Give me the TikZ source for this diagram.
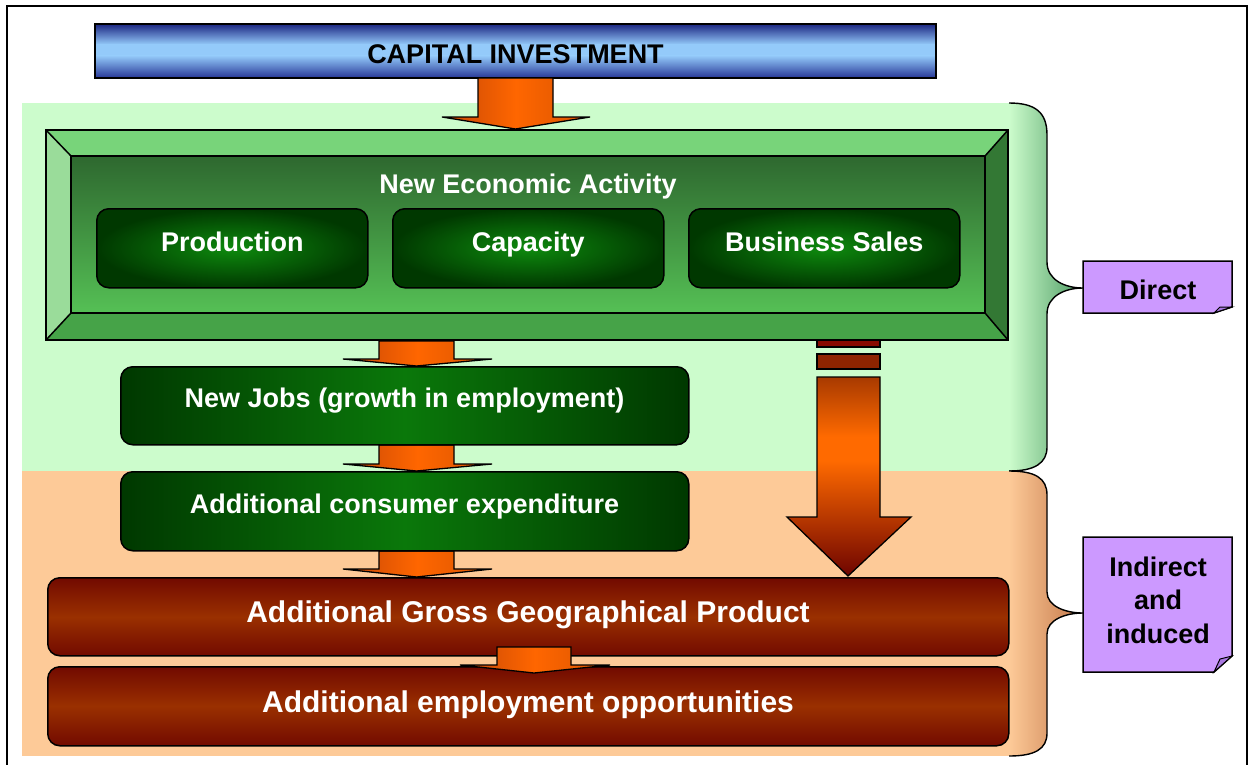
\documentclass[tikz,border=0pt]{standalone}
\usepackage{fontspec}
\setmainfont{Liberation Sans}
\definecolor{navy}{HTML}{1C2782}
\definecolor{navyb}{HTML}{263696}
\definecolor{skyb}{HTML}{94CAFA}
\definecolor{lgreen}{HTML}{CCFCCC}
\definecolor{bgreen}{HTML}{4C9A62}
\definecolor{peach}{HTML}{FDCA98}
\definecolor{bpeach}{HTML}{C37648}
\definecolor{bvtop}{HTML}{78D47A}
\definecolor{bvleft}{HTML}{9ADC9A}
\definecolor{bvright}{HTML}{337834}
\definecolor{bvbot}{HTML}{46A348}
\definecolor{bvinT}{HTML}{2E682F}
\definecolor{bvinB}{HTML}{55C055}
\definecolor{gdark}{HTML}{003800}
\definecolor{gmid}{HTML}{0A780A}
\definecolor{gglow}{HTML}{0E8A0E}
\definecolor{rdark}{HTML}{720A00}
\definecolor{rmid}{HTML}{9A3000}
\definecolor{oL}{HTML}{C44606}
\definecolor{oM}{HTML}{FF6600}
\definecolor{oR}{HTML}{D85400}
\definecolor{arrtop}{HTML}{A83A00}
\definecolor{arrmid}{HTML}{FF6A00}
\definecolor{arrbot}{HTML}{6E0400}
\definecolor{bar1}{HTML}{880A00}
\definecolor{bar2}{HTML}{8E2400}
\definecolor{lilac}{HTML}{CC99FF}
\definecolor{lilacd}{HTML}{A878E0}
\pgfdeclareverticalshading{bigarrow}{100bp}{color(0bp)=(arrbot); color(25bp)=(arrbot); color(54bp)=(arrmid); color(60bp)=(arrmid); color(75bp)=(arrtop); color(100bp)=(arrtop)}
\newcommand{\blkarrow}[7]{%
  \draw[orangearrow] (#1,#5) -- (#2,#5) -- (#2,#6) -- (#4,#6) -- ({(#1+#2)/2},#7) -- (#3,#6) -- (#1,#6) -- cycle;}
\begin{document}
\begin{tikzpicture}[x=1pt,y=-1pt,
  outl/.style={draw=black, line width=1.5pt},
  wtxt/.style={text=white, font=\bfseries\fontsize{27}{32}\selectfont, inner sep=0pt, anchor=base},
  wtxtL/.style={text=white, font=\bfseries\fontsize{30}{36}\selectfont, inner sep=0pt, anchor=base},
  btxt/.style={text=black, font=\bfseries\fontsize{27}{32}\selectfont, inner sep=0pt, anchor=base},
  greenbox/.style={outl, rounded corners=12pt, left color=gdark, right color=gdark, middle color=gmid, inner sep=0pt, anchor=north west},
  subbox/.style={outl, rounded corners=12pt, inner color=gglow, outer color=gdark, inner sep=0pt, anchor=north west, minimum width=271pt, minimum height=79pt},
  redbox/.style={outl, rounded corners=12pt, top color=rdark, bottom color=rdark, middle color=rmid, inner sep=0pt, anchor=north west, minimum width=961pt},
  orangearrow/.style={draw=black, line width=1.3pt, left color=oL, right color=oR, middle color=oM},
  bevelpart/.style={draw=black, line width=1.5pt, line join=miter}]
\useasboundingbox (0,0) rectangle (1250,764);
\fill[white] (0,0) rectangle (1250,764);
% outer frame
\draw[line width=2pt] (7,770) -- (7,6) -- (1247,6) -- (1247,770);

% regions
\fill[lgreen] (22,103) rectangle (1010,471);
\shade[left color=lgreen, right color=bgreen] (1009,103) .. controls (1035,103) and (1047,112) .. (1047,135) -- (1047,262) .. controls (1047,280) and (1065,288) .. (1083,288) .. controls (1065,288) and (1047,296) .. (1047,314) -- (1047,447) .. controls (1047,463) and (1035,471) .. (1009,471) -- cycle;
\draw[line width=1.4pt] (1009,103) .. controls (1035,103) and (1047,112) .. (1047,135) -- (1047,262) .. controls (1047,280) and (1065,288) .. (1083,288) .. controls (1065,288) and (1047,296) .. (1047,314) -- (1047,447) .. controls (1047,463) and (1035,471) .. (1009,471);
\fill[peach] (22,471) rectangle (1010,756);
\shade[left color=peach, right color=bpeach] (1009,471) .. controls (1035,471) and (1047,478) .. (1047,495) -- (1047,592) .. controls (1047,606) and (1065,613) .. (1083,613) .. controls (1065,613) and (1047,620) .. (1047,634) -- (1047,733) .. controls (1047,749) and (1035,756) .. (1009,756) -- cycle;
\draw[line width=1.4pt] (1009,471) .. controls (1035,471) and (1047,478) .. (1047,495) -- (1047,592) .. controls (1047,606) and (1065,613) .. (1083,613) .. controls (1065,613) and (1047,620) .. (1047,634) -- (1047,733) .. controls (1047,749) and (1035,756) .. (1009,756);

% capital investment
\shade[top color=navy, bottom color=skyb] (95,24) rectangle (936,44.5);
\fill[skyb] (95,44) rectangle (936,56);
\shade[top color=skyb, bottom color=navyb] (95,55.5) rectangle (936,78);
\draw[line width=2pt] (95,24) rectangle (936,78);
\node[inner sep=0pt, anchor=north west, minimum width=841pt, minimum height=54pt] (cap) at (95,24) {};
\node[btxt] (captxt) at (515.5,63) {CAPITAL INVESTMENT};

% arrow 1
\blkarrow{478}{553}{442}{590}{78}{117}{129}

% bevel box
\node[inner sep=0pt, minimum width=962pt, minimum height=210pt, anchor=north west] (bevel) at (46,130) {};
\fill[bvtop] (46,130) -- (1008,130) -- (985,156) -- (71,156) -- cycle;
\fill[bvleft] (46,130) -- (71,156) -- (71,313) -- (46,340) -- cycle;
\fill[bvright] (1008,130) -- (1008,340) -- (985,313) -- (985,156) -- cycle;
\fill[bvbot] (46,340) -- (71,313) -- (985,313) -- (1008,340) -- cycle;
\shade[top color=bvinT, bottom color=bvinB] (71,156) rectangle (985,313);
\draw[bevelpart] (46,130) rectangle (1008,340);
\draw[bevelpart] (71,156) rectangle (985,313);
\draw[bevelpart] (46,130) -- (71,156) (1008,130) -- (985,156) (46,340) -- (71,313) (1008,340) -- (985,313);
\node[wtxt] (neatxt) at (528,193) {New Economic Activity};
\node[subbox] (prod) at (96,208) {};
\node[subbox] (capa) at (392,208) {};
\node[subbox] (bsal) at (688,208) {};
\node[wtxt] at (prod.center |- 0,251) (prodtxt) {Production};
\node[wtxt] at (capa.center |- 0,251) (capatxt) {Capacity};
\node[wtxt] at (bsal.center |- 0,251) (bsaltxt) {Business Sales};

% small arrows
\blkarrow{379}{454}{343}{492}{341}{359}{366}
\blkarrow{379}{454}{343}{492}{445}{464}{471}
\blkarrow{379}{454}{343}{492}{551}{569}{577}

% big right arrow
\draw[line width=1.3pt, fill=bar1] (817,340) rectangle (880,347);
\draw[line width=1.3pt, fill=bar2] (817,354) rectangle (880,369);
\draw[line width=1.3pt, shading=bigarrow] (817,377) -- (880,377) -- (880,517) -- (911,517) -- (848,576) -- (787,517) -- (817,517) -- cycle;

% green boxes
\node[greenbox, minimum width=568pt, minimum height=78pt] (jobs) at (120,366) {};
\node[wtxt] (jobstxt) at (404.5,407) {New Jobs (growth in employment)};
\node[greenbox, minimum width=568pt, minimum height=79pt] (cons) at (120,471) {};
\node[wtxt] (constxt) at (404.5,513) {Additional consumer expenditure};

% red boxes
\node[redbox, minimum height=78pt] (ggp) at (47,577) {};
\node[wtxtL] (ggptxt) at (528,622) {Additional Gross Geographical Product};
\node[redbox, minimum height=79pt] (emp) at (47,666) {};
\node[wtxtL] (emptxt) at (528,712) {Additional employment opportunities};

% arrow 5
\blkarrow{497}{571}{460}{610}{647}{665}{673}

% labels
\draw[line width=1.5pt, fill=lilac] (1083,261) -- (1232,261) -- (1232,307) -- (1214,313) -- (1083,313) -- cycle;
\draw[line width=1pt, fill=lilacd] (1214,313) -- (1220,307) -- (1232,307) -- cycle;
\node[btxt] (dir) at (1158,299) {Direct};
\draw[line width=1.5pt, fill=lilac] (1083,537) -- (1232,537) -- (1232,656) -- (1214,672) -- (1083,672) -- cycle;
\draw[line width=1pt, fill=lilacd] (1214,672) -- (1220,659) -- (1232,656) -- cycle;
\node[btxt] (ind1) at (1158,576) {Indirect};
\node[btxt] (ind2) at (1158,609) {and};
\node[btxt] (ind3) at (1158,643) {induced};
\end{tikzpicture}
\end{document}
